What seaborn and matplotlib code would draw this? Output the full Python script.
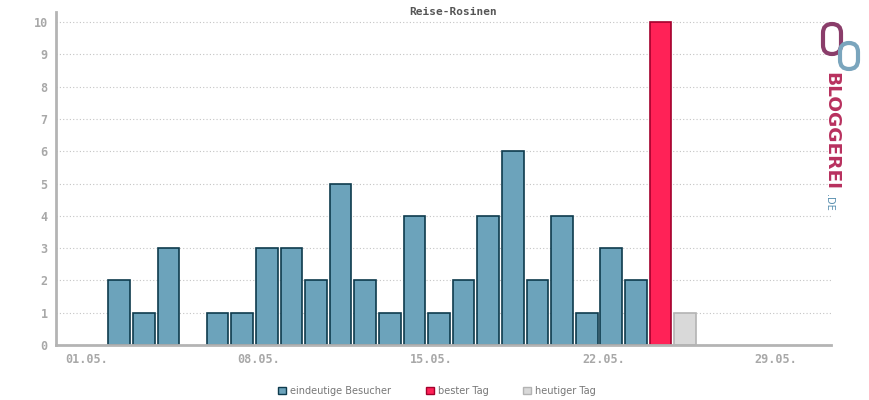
import pandas as pd
import numpy as np
import matplotlib
matplotlib.use('Agg')
import matplotlib.pyplot as plt
import matplotlib.transforms as mtransforms
from matplotlib.patches import Patch, FancyBboxPatch
import seaborn as sns

# daily unique visitors, May
days = list(range(1, 31))
visitors = [0, 2, 1, 3, 0, 1, 1, 3, 3, 2, 5, 2, 1, 4, 1, 2, 4, 6, 2, 4, 1, 3, 2, 10, 1,
            0, 0, 0, 0, 0]
best_day = 24
today = 25
tick_days = [1, 8, 15, 22, 29]
tick_labels = ['01.05.', '08.05.', '15.05.', '22.05.', '29.05.']
legend_labels = ['eindeutige Besucher', 'bester Tag', 'heutiger Tag']

face = {'eindeutige Besucher': '#6ca3bb', 'bester Tag': '#ff2257', 'heutiger Tag': '#d9d9d9'}
edge = {'eindeutige Besucher': '#0e3b4d', 'bester Tag': '#a3002c', 'heutiger Tag': '#b3b3b3'}

df = pd.DataFrame({'day': days, 'visitors': visitors})
df['kind'] = np.where(df.day == best_day, 'bester Tag',
                      np.where(df.day == today, 'heutiger Tag', 'eindeutige Besucher'))
df = df[df.visitors > 0]

sns.set_style('white')
plt.rcParams['font.family'] = ['DejaVu Sans Mono', 'DejaVu Sans']

fig = plt.figure(figsize=(8.7, 4), dpi=100)
ax = fig.add_axes([56 / 870, 55 / 400, 775 / 870, 333 / 400])

sns.barplot(data=df, x='day', y='visitors', hue='kind', hue_order=legend_labels,
            palette=face, native_scale=True, dodge=False, width=0.88,
            saturation=1, legend=False, ax=ax, zorder=2)

for cont, lab in zip(ax.containers, legend_labels):
    for p in cont:
        p.set_edgecolor(edge[lab])
        p.set_linewidth(1.2)

ax.set_xlim(-0.57, 30.93)
ax.set_ylim(0, 10.31)
ax.set_yticks(range(0, 11))
ax.set_xticks(tick_days)
ax.set_xticklabels(tick_labels)
ax.set_xticks(days, minor=True)
ax.set_xlabel('')
ax.set_ylabel('')

ax.grid(axis='y', linestyle=(0, (1, 2)), color='#c4c4c4', linewidth=0.8, zorder=0)
ax.grid(axis='x', visible=False)
for s in ['top', 'right']:
    ax.spines[s].set_visible(False)
for s in ['left', 'bottom']:
    ax.spines[s].set_color('#b4b4b4')
    ax.spines[s].set_linewidth(2)
    ax.spines[s].set_zorder(3)

ax.tick_params(axis='y', length=0, pad=6, labelsize=8.5, labelcolor='#a8a8a8')
ax.tick_params(axis='x', which='both', length=4, width=1, color='#b4b4b4',
               labelsize=8.5, labelcolor='#a8a8a8', pad=2, direction='out')
for lbl in ax.get_xticklabels() + ax.get_yticklabels():
    lbl.set_fontweight('bold')
offset = mtransforms.ScaledTranslation(-8 / 100, 0, fig.dpi_scale_trans)
for lbl in ax.get_xticklabels():
    lbl.set_transform(lbl.get_transform() + offset)

fig.text(453 / 870, 1 - 12 / 400, 'Reise-Rosinen', ha='center', va='center',
         fontsize=8, fontweight='bold', color='#555555')

handles = [Patch(facecolor=face[l], edgecolor=edge[l], linewidth=1) for l in legend_labels]
leg = fig.legend(handles, legend_labels, loc='center', bbox_to_anchor=(437 / 870, 1 - 391 / 400),
                 ncol=3, frameon=False, handlelength=0.8, handleheight=0.8,
                 handletextpad=0.4, columnspacing=3.6,
                 prop={'family': 'DejaVu Sans', 'size': 7})
for t in leg.get_texts():
    t.set_color('#777777')

# logo
fig.text(831 / 870, 1 - 131 / 400, 'BLOGGEREI', rotation=270, ha='center', va='center',
         fontsize=13.3, fontweight='bold', color='#b8305e', family='DejaVu Sans')
fig.text(829 / 870, 1 - 202 / 400, '.DE', rotation=270, ha='center', va='center',
         fontsize=7, color='#5a90b0', family='DejaVu Sans')
lax = fig.add_axes([818 / 870, 1 - 72 / 400, 48 / 870, 54 / 400])
lax.set_xlim(0, 48)
lax.set_ylim(0, 54)
lax.axis('off')
lax.add_patch(FancyBboxPatch((5, 18), 18, 30, boxstyle='round,pad=0,rounding_size=9',
                             fill=False, edgecolor='#8a3d6a', linewidth=3))
lax.add_patch(FancyBboxPatch((22, 3), 18, 26, boxstyle='round,pad=0,rounding_size=9',
                             fill=False, edgecolor='#7aa5bd', linewidth=3))

fig.savefig('out.png', dpi=100)
